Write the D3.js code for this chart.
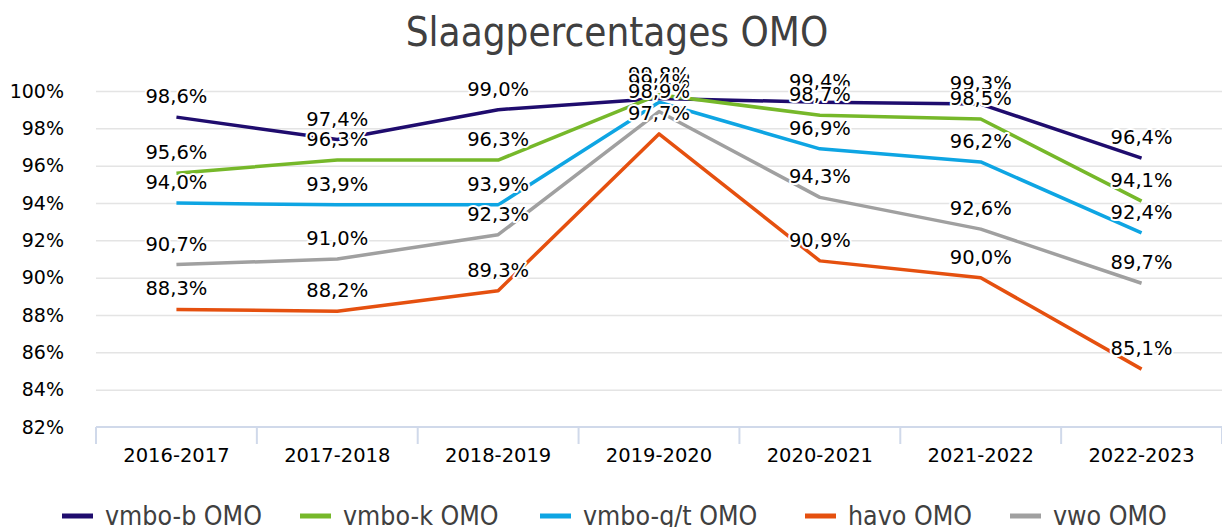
<!DOCTYPE html>
<meta charset="utf-8">
<script src="https://d3js.org/d3.v7.min.js"></script>
<style>
body { margin: 0; background: #fff; }
svg { font-family: "DejaVu Sans", Verdana, sans-serif; }
.grid line { stroke: #e4e4e4; stroke-width: 1.5; }
.grid path { stroke-width: 0; }
.lbl { font-size: 19.5px; fill: #000; stroke: #fff; stroke-width: 4px; paint-order: stroke; stroke-linejoin: round; }
</style>
<div id="chart"></div>
<script>
// categories and series
var years = ["2016-2017", "2017-2018", "2018-2019", "2019-2020", "2020-2021", "2021-2022", "2022-2023"];
var vmboB = [98.6, 97.4, 99.0, 99.6, 99.4, 99.3, 96.4];
var vmboK = [95.6, 96.3, 96.3, 99.8, 98.7, 98.5, 94.1];
var vmboGT = [94.0, 93.9, 93.9, 99.4, 96.9, 96.2, 92.4];
var havo = [88.3, 88.2, 89.3, 97.7, 90.9, 90.0, 85.1];
var vwo = [90.7, 91.0, 92.3, 98.9, 94.3, 92.6, 89.7];
var yTicks = [82, 84, 86, 88, 90, 92, 94, 96, 98, 100];

var series = [
    {name: "vmbo-b OMO", values: vmboB, color: "#1f0c6e"},
    {name: "vmbo-k OMO", values: vmboK, color: "#76b82a"},
    {name: "vmbo-g/t OMO", values: vmboGT, color: "#0ea5e3"},
    {name: "havo OMO", values: havo, color: "#e5500f"},
    {name: "vwo OMO", values: vwo, color: "#a0a0a0"}
];

var width = 1222, height = 527;
var margin = {top: 91, right: 0, bottom: 100, left: 96};

var svg = d3.select("#chart").append("svg")
    .attr("width", width)
    .attr("height", height);

var x = d3.scaleBand()
    .domain(years)
    .range([margin.left, width - margin.right])
    .padding(0);

var y = d3.scaleLinear()
    .domain([82, 100])
    .range([height - margin.bottom, margin.top]);

var fmt = function(v) { return d3.format(".1f")(v).replace(".", ",") + "%"; };

// title
svg.append("text")
    .attr("x", 617)
    .attr("y", 46)
    .attr("text-anchor", "middle")
    .style("font-size", "40px")
    .style("font-family", "'DejaVu Sans Condensed', 'DejaVu Sans', sans-serif")
    .style("fill", "#404040")
    .text("Slaagpercentages OMO");

// gridlines
svg.append("g")
    .attr("class", "grid")
    .attr("transform", "translate(" + margin.left + ",0)")
    .call(d3.axisLeft(y).tickValues(yTicks.slice(1)).tickSize(-(width - margin.left - margin.right)).tickFormat(""));

// y axis labels
svg.append("g")
    .attr("transform", "translate(" + (margin.left - 32) + ",0)")
    .call(d3.axisLeft(y).tickValues(yTicks).tickSize(0).tickPadding(0).tickFormat(function(d) { return d + "%"; }))
    .call(function(g) { g.select(".domain").remove(); })
    .call(function(g) {
        g.selectAll("text").style("font-size", "19px").style("font-family", "'DejaVu Sans', sans-serif").attr("fill", "#000");
    });

// x axis
var xAxis = svg.append("g")
    .attr("transform", "translate(0," + y(82) + ")");
xAxis.append("line")
    .attr("x1", margin.left).attr("x2", width)
    .attr("stroke", "#d0d9ea").attr("stroke-width", 2);
xAxis.selectAll(".tk")
    .data(years.concat(["end"]))
    .enter().append("line")
    .attr("x1", function(d, i) { return i < years.length ? x(d) : x(years[years.length - 1]) + x.bandwidth(); })
    .attr("x2", function(d, i) { return i < years.length ? x(d) : x(years[years.length - 1]) + x.bandwidth(); })
    .attr("y1", 0).attr("y2", 17)
    .attr("stroke", "#d0d9ea").attr("stroke-width", 2);
xAxis.selectAll(".xl")
    .data(years)
    .enter().append("text")
    .attr("x", function(d) { return x(d) + x.bandwidth() / 2; })
    .attr("y", 35)
    .attr("text-anchor", "middle")
    .style("font-size", "19.5px")
    .attr("fill", "#000")
    .text(function(d) { return d; });

// lines
var line = d3.line()
    .x(function(d, i) { return x(years[i]) + x.bandwidth() / 2; })
    .y(function(d) { return y(d); });

series.forEach(function(s) {
    svg.append("path")
        .datum(s.values)
        .attr("fill", "none")
        .attr("stroke", s.color)
        .attr("stroke-width", 3.5)
        .attr("stroke-linejoin", "round")
        .attr("d", line);
});

// data labels
series.forEach(function(s) {
    svg.append("g").selectAll("text")
        .data(s.values)
        .enter().append("text")
        .attr("class", "lbl")
        .attr("x", function(d, i) { return x(years[i]) + x.bandwidth() / 2; })
        .attr("y", function(d) { return y(d) - 14; })
        .attr("text-anchor", "middle")
        .text(fmt);
});

// legend
var legendX = [62, 300, 540, 805, 1010];
var legend = svg.append("g").attr("transform", "translate(0,516)");
var items = legend.selectAll("g")
    .data(series)
    .enter().append("g")
    .attr("transform", function(d, i) { return "translate(" + legendX[i] + ",0)"; });
items.append("line")
    .attr("x1", 0).attr("x2", 31)
    .attr("stroke", function(d) { return d.color; })
    .attr("stroke-width", 5);
items.append("text")
    .attr("x", 43)
    .attr("y", 9)
    .style("font-size", "26.5px")
    .style("font-family", "'DejaVu Sans Condensed', 'DejaVu Sans', sans-serif")
    .attr("fill", "#404040")
    .text(function(d) { return d.name; });
</script>
